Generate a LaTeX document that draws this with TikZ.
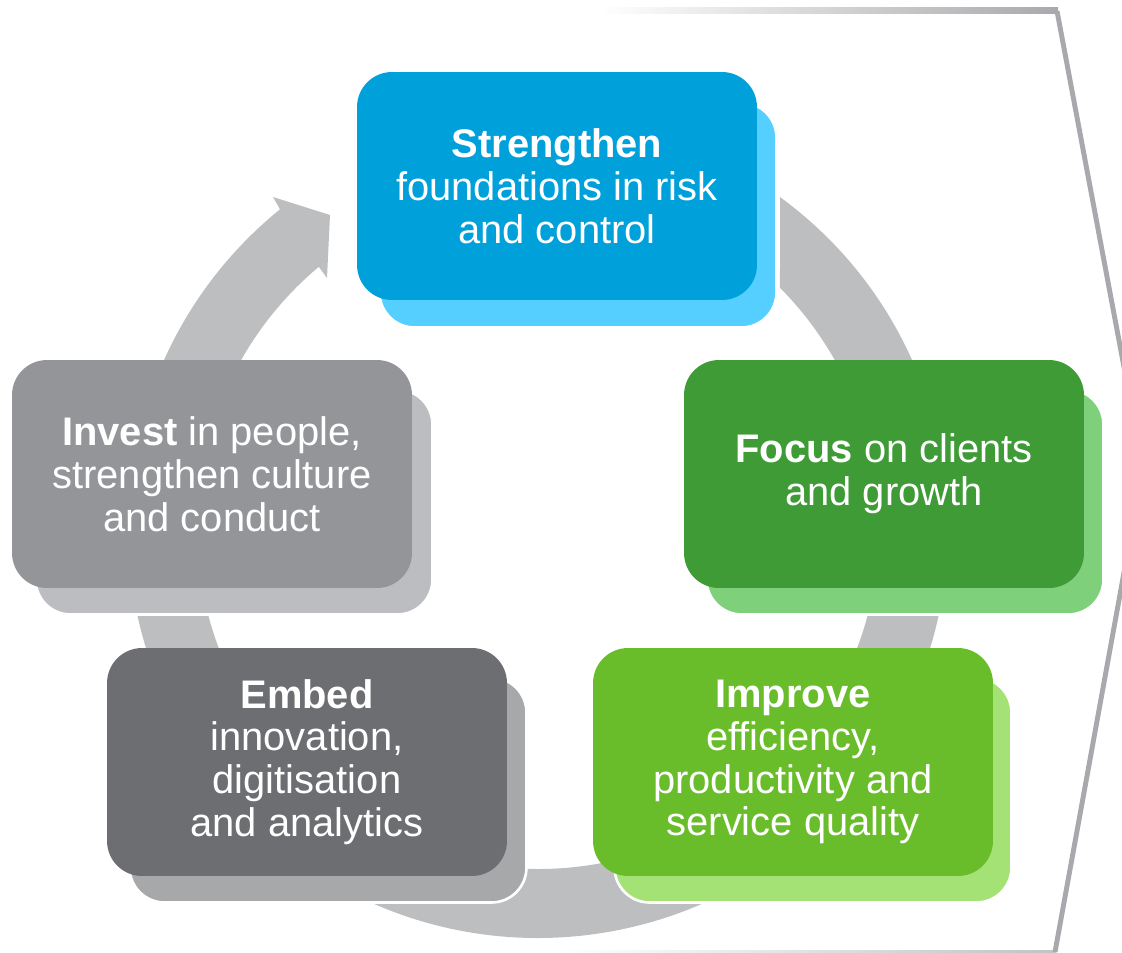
\documentclass[tikz,border=0pt]{standalone}
\usepackage{fontspec}
\setmainfont{Liberation Sans}
\usetikzlibrary{calc}

\definecolor{ringgray}{RGB}{189,190,192}
\definecolor{framegray}{RGB}{167,169,172}
\definecolor{riskblue}{RGB}{0,160,218}
\definecolor{riskblueback}{RGB}{84,207,255}
\definecolor{clientgreen}{RGB}{62,155,53}
\definecolor{clientgreenback}{RGB}{126,209,122}
\definecolor{efficiencygreen}{RGB}{106,189,42}
\definecolor{efficiencygreenback}{RGB}{165,226,117}
\definecolor{innovationgray}{RGB}{109,110,113}
\definecolor{innovationgrayback}{RGB}{167,168,170}
\definecolor{peoplegray}{RGB}{147,149,152}
\definecolor{peoplegrayback}{RGB}{188,189,192}

\tikzset{
	pillar/.style={rounded corners=0.7cm, minimum width=8cm, minimum height=4.56cm, inner sep=0pt,
		text=white, align=center, font=\fontsize{22.7}{24.4}\selectfont},
	pillarback/.style={rounded corners=0.7cm, minimum width=7.94cm, minimum height=4.5cm, inner sep=0pt,
		draw=white, line width=1.5pt}
}

\begin{document}
\begin{tikzpicture}[x=0.02cm, y=-0.02cm]

	% canvas
	\clip (0,0) rectangle (1122,953);
	\coordinate (ringc) at (538,528);

	% frame
	\shade [left color=white, right color=framegray] (600,8) rectangle (1058,14);
	\shade [left color=white, right color=framegray!70] (560,950) rectangle (1056,952);
	\draw [framegray, line width=2.8pt] (1057,11) -- (1143,468) -- (1055,952);

	% cycle
	\fill [ringgray] (ringc) ++(-53.8:410) arc [start angle=-53.8, end angle=231, radius=410]
		-- (273,197) -- (330,215) -- (327,278) -- ($(ringc)+(230:341)$)
		arc [start angle=230, end angle=-44.8, radius=341] -- cycle;

	% back plates
	\node [pillarback, fill=riskblueback] (strengthen-back) at (578,215) {};
	\node [pillarback, fill=clientgreenback] (focus-back) at (905,502) {};
	\node [pillarback, fill=efficiencygreenback] (improve-back) at (813,790) {};
	\node [pillarback, fill=innovationgrayback] (embed-back) at (328,790) {};
	\node [pillarback, fill=peoplegrayback] (invest-back) at (234,502) {};

	% pillars
	\node [pillar, fill=riskblue] (strengthen) at (557,186) {\textbf{Strengthen}\\foundations in risk\\and control};
	\node [pillar, fill=clientgreen] (focus) at (884,474) {\textbf{Focus} on clients\\and growth};
	\node [pillar, fill=efficiencygreen] (improve) at (793,762) {\textbf{Improve}\\efficiency,\\productivity and\\service quality};
	\node [pillar, fill=innovationgray] (embed) at (307,762) {\textbf{Embed}\\innovation,\\digitisation\\and analytics};
	\node [pillar, fill=peoplegray] (invest) at (212,474) {\textbf{Invest} in people,\\strengthen culture\\and conduct};

\end{tikzpicture}
\end{document}
